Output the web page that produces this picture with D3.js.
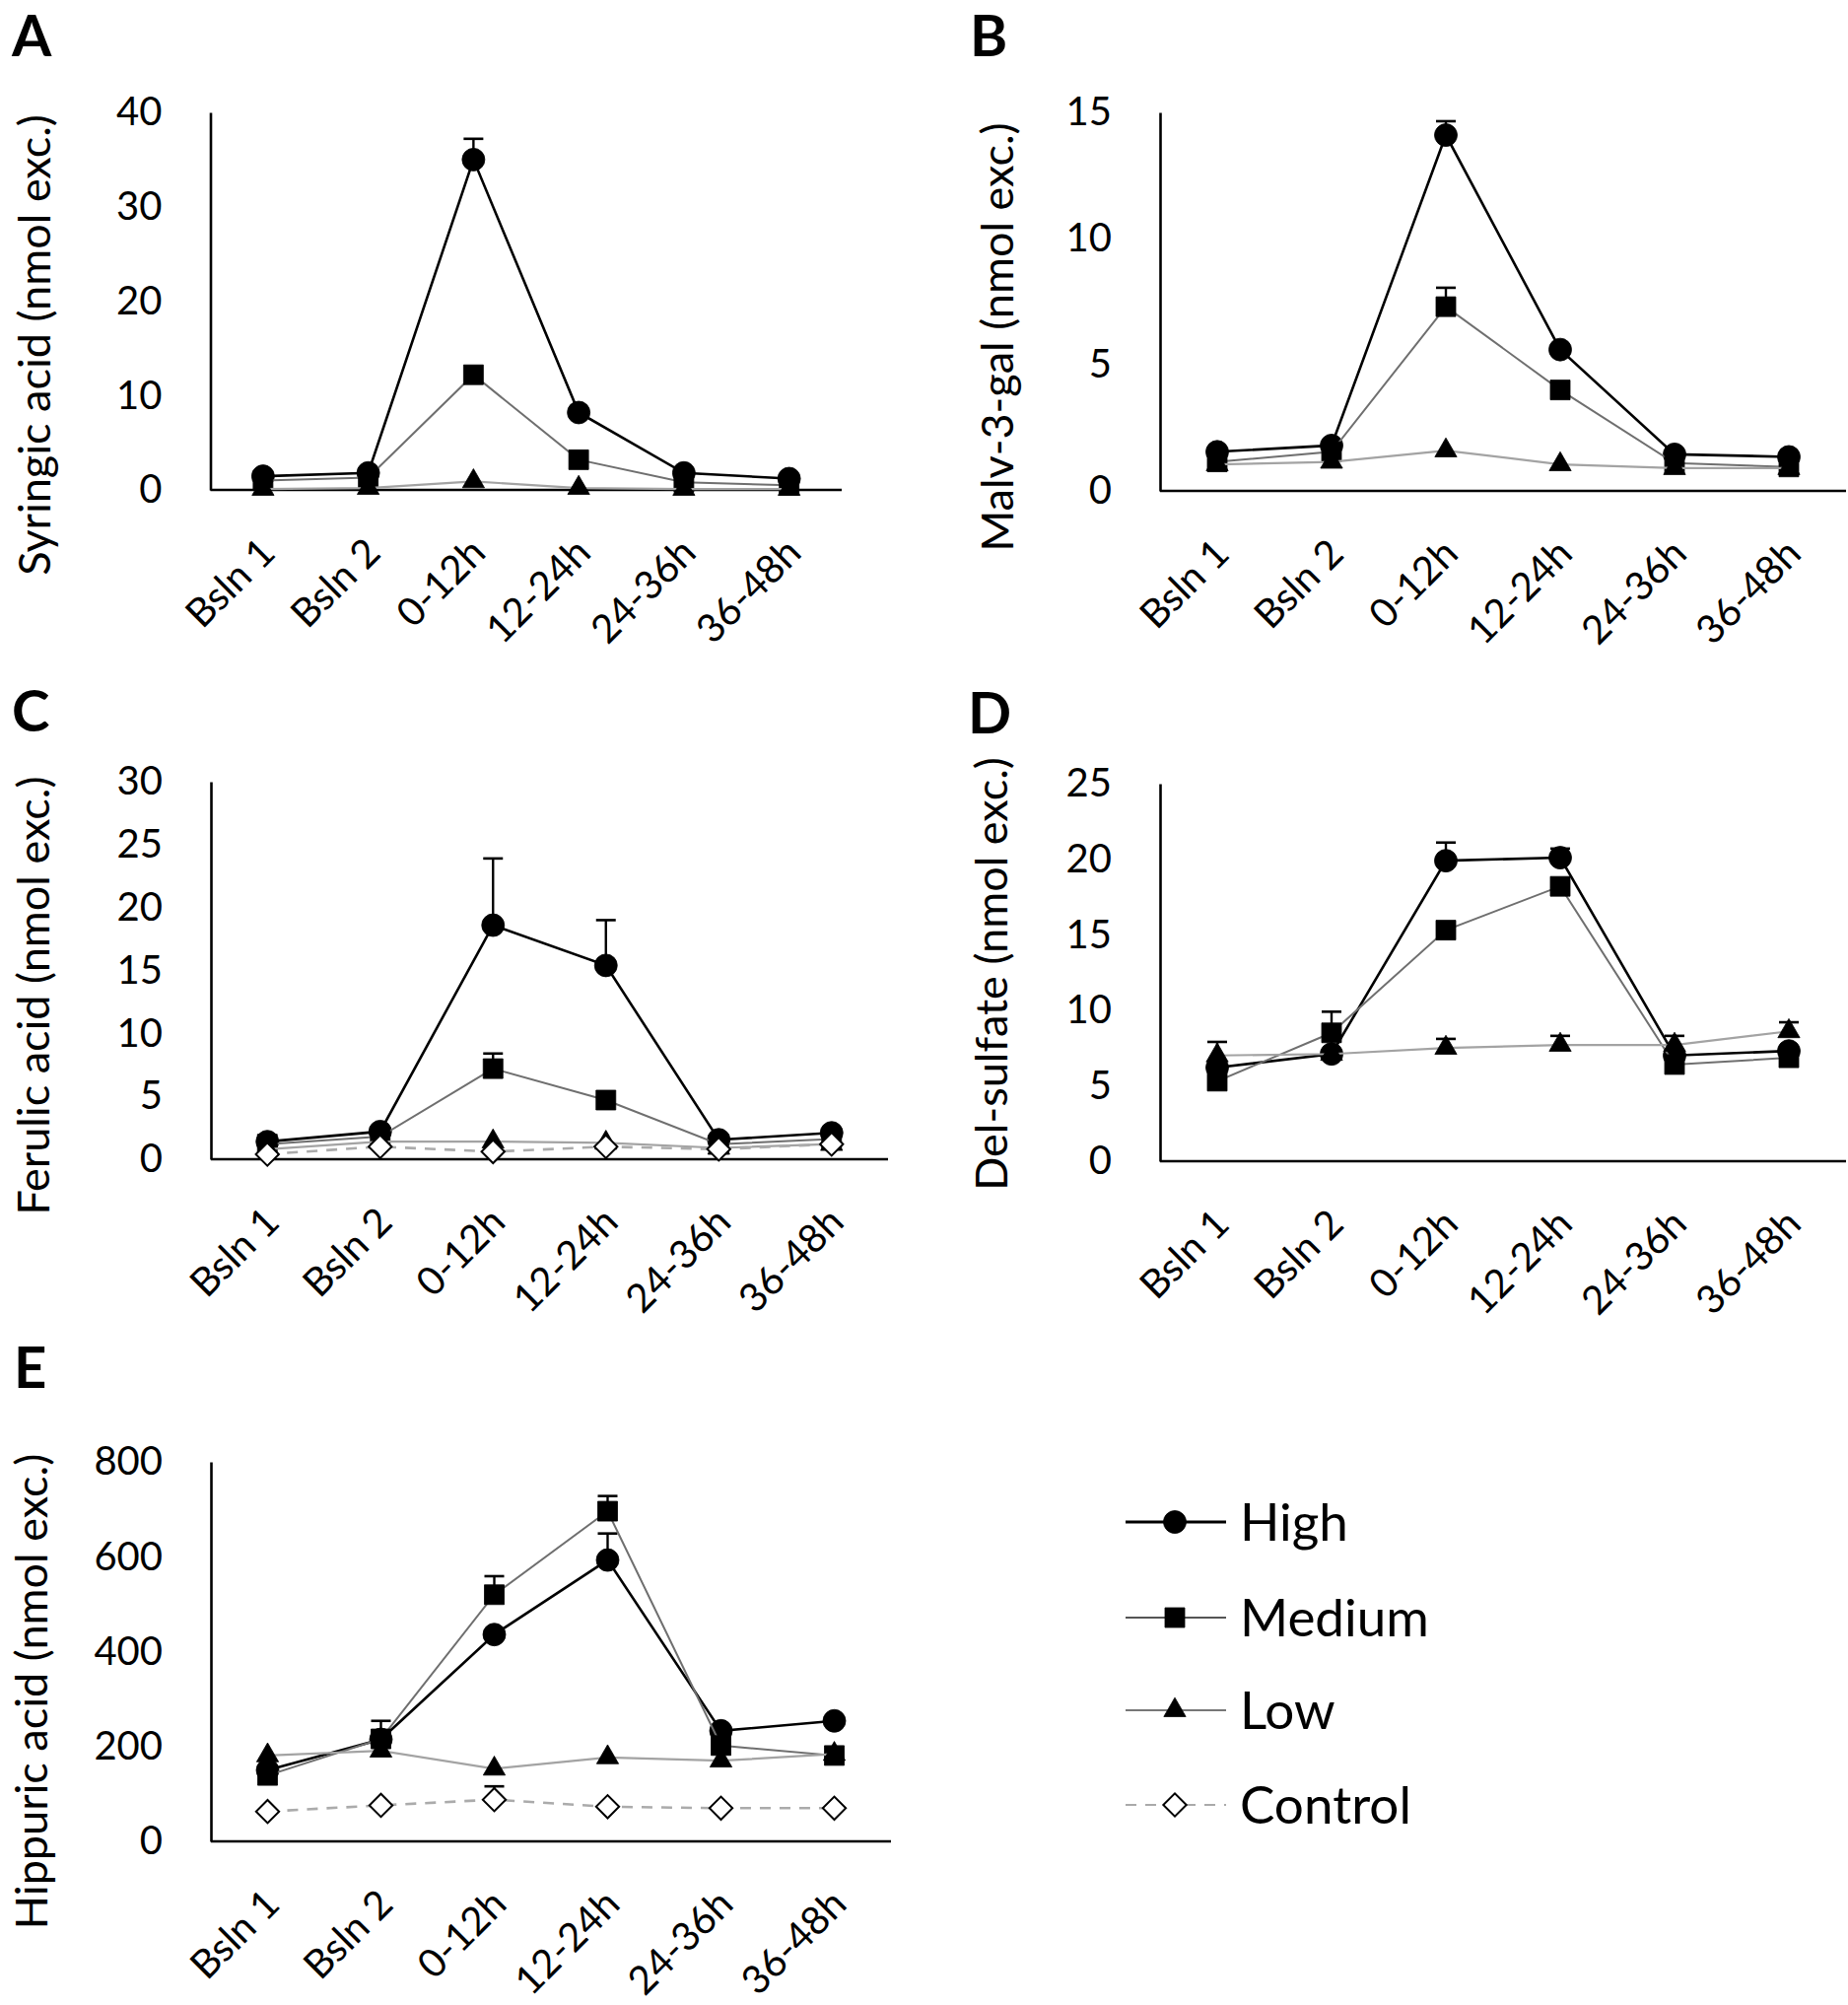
<!DOCTYPE html>
<html><head><meta charset="utf-8">
<script src="https://cdn.jsdelivr.net/npm/d3@7"></script>
<style>
body{margin:0;background:#fff}
svg{display:block}
text{font-family:Lato,'Open Sans',sans-serif;fill:#000}
</style>
</head><body>
<svg id="chart" width="1875" height="2034"></svg>
<script>
// ---------- DATA ----------
const categories = ["Bsln 1", "Bsln 2", "0-12h", "12-24h", "24-36h", "36-48h"];
const seriesNames = ["High", "Medium", "Low", "Control"];

// A: Syringic acid
const syringicHigh      = [1.45, 1.8, 35.0, 8.2, 1.8, 1.2];
const syringicHighErr   = [0, 0, 2.2, 0, 0, 0];
const syringicMedium    = [1.0, 1.3, 12.2, 3.2, 0.8, 0.5];
const syringicMediumErr = [0, 0, 0, 0, 0, 0];
const syringicLow       = [0.1, 0.2, 0.9, 0.2, 0.1, 0.1];
const syringicTicks     = [0, 10, 20, 30, 40];

// B: Malv-3-gal
const malvHigh      = [1.55, 1.8, 14.1, 5.6, 1.45, 1.35];
const malvHighErr   = [0, 0, 0.55, 0, 0, 0];
const malvMedium    = [1.15, 1.55, 7.3, 4.0, 1.1, 0.95];
const malvMediumErr = [0, 0, 0.75, 0, 0, 0];
const malvLow       = [1.05, 1.15, 1.6, 1.05, 0.9, 0.9];
const malvTicks     = [0, 5, 10, 15];

// C: Ferulic acid
const ferulicHigh      = [1.4, 2.2, 18.6, 15.4, 1.55, 2.1];
const ferulicHighErr   = [0, 0, 5.3, 3.6, 0, 0];
const ferulicMedium    = [1.2, 1.8, 7.2, 4.7, 1.2, 1.6];
const ferulicMediumErr = [0, 0, 1.2, 0, 0, 0];
const ferulicLow       = [0.8, 1.4, 1.4, 1.3, 0.9, 1.2];
const ferulicControl   = [0.4, 1.0, 0.6, 1.0, 0.8, 1.2];
const ferulicTicks     = [0, 5, 10, 15, 20, 25, 30];

// D: Del-sulfate
const delHigh      = [6.2, 7.1, 19.9, 20.1, 7.0, 7.3];
const delHighErr   = [0, 0, 1.2, 0.6, 0, 0];
const delMedium    = [5.3, 8.5, 15.3, 18.2, 6.4, 6.85];
const delMediumErr = [0, 1.4, 0, 0, 0, 0];
const delLow       = [7.0, 7.1, 7.5, 7.7, 7.7, 8.6];
const delLowErr    = [0.9, 0, 0.6, 0.6, 0.6, 0.6];
const delTicks     = [0, 5, 10, 15, 20, 25];

// E: Hippuric acid
const hippHigh       = [150, 215, 436, 593, 233, 254];
const hippHighErr    = [0, 0, 0, 56, 0, 0];
const hippMedium     = [139, 216, 520, 696, 202, 181];
const hippMediumErr  = [0, 38, 39, 32, 0, 0];
const hippLow        = [181, 191, 153, 177, 170, 184];
const hippControl    = [63, 76, 88, 73, 70, 70];
const hippControlErr = [0, 0, 28, 0, 0, 0];
const hippTicks      = [0, 200, 400, 600, 800];

const panelLetters = ["A", "B", "C", "D", "E"];
const panelTitles = ["Syringic acid (nmol exc.)", "Malv-3-gal (nmol exc.)", "Ferulic acid (nmol exc.)",
                     "Del-sulfate (nmol exc.)", "Hippuric acid (nmol exc.)"];

// ---------- BUILD ----------
const zeros = categories.map(() => 0);
const panels = [
  {letter: panelLetters[0], title: panelTitles[0], ticks: syringicTicks,
   series: {High: [syringicHigh, syringicHighErr], Medium: [syringicMedium, syringicMediumErr], Low: [syringicLow, zeros]}},
  {letter: panelLetters[1], title: panelTitles[1], ticks: malvTicks,
   series: {High: [malvHigh, malvHighErr], Medium: [malvMedium, malvMediumErr], Low: [malvLow, zeros]}},
  {letter: panelLetters[2], title: panelTitles[2], ticks: ferulicTicks,
   series: {High: [ferulicHigh, ferulicHighErr], Medium: [ferulicMedium, ferulicMediumErr], Low: [ferulicLow, zeros], Control: [ferulicControl, zeros]}},
  {letter: panelLetters[3], title: panelTitles[3], ticks: delTicks,
   series: {High: [delHigh, delHighErr], Medium: [delMedium, delMediumErr], Low: [delLow, delLowErr]}},
  {letter: panelLetters[4], title: panelTitles[4], ticks: hippTicks,
   series: {High: [hippHigh, hippHighErr], Medium: [hippMedium, hippMediumErr], Low: [hippLow, zeros], Control: [hippControl, hippControlErr]}}
];

// layout (pixels)
const layout = [
  {x0: 213.5, x1: 854, yTop: 114, yBot: 497, lx: 12, ly: 57, tx: 35, ty: 350},
  {x0: 1177, x1: 1873, yTop: 114, yBot: 498, lx: 984, ly: 57, tx: 1012, ty: 342},
  {x0: 214, x1: 901, yTop: 793, yBot: 1176, lx: 12, ly: 742, tx: 34, ty: 1010},
  {x0: 1177, x1: 1873, yTop: 795, yBot: 1178, lx: 982, ly: 744, tx: 1006, ty: 988},
  {x0: 214, x1: 904, yTop: 1483, yBot: 1868, lx: 14, ly: 1408, tx: 32, ty: 1716}
];

const style = {
  High:    {stroke: "#000", width: 2.6, dash: null, fill: "#000", sym: "circle"},
  Medium:  {stroke: "#6f6f6f", width: 2, dash: null, fill: "#000", sym: "square"},
  Low:     {stroke: "#a3a3a3", width: 2.2, dash: null, fill: "#000", sym: "triangle"},
  Control: {stroke: "#ababab", width: 2.6, dash: "11,9", fill: "#fff", sym: "diamond"}
};

function markerPath(sym) {
  if (sym === "circle") return d3.symbol(d3.symbolCircle, Math.PI * 11.5 * 11.5)();
  if (sym === "square") return d3.symbol(d3.symbolSquare, 20 * 20)();
  if (sym === "triangle") return d3.symbol(d3.symbolTriangle, 215)();
  return d3.symbol(d3.symbolSquare, 16.5 * 16.5)();
}

const svg = d3.select("#chart");

panels.forEach((p, i) => {
  const L = layout[i];
  const g = svg.append("g");
  const x = d3.scalePoint().domain(categories).range([L.x0, L.x1]).padding(0.5);
  const yMax = p.ticks[p.ticks.length - 1];
  const y = d3.scaleLinear().domain([0, yMax]).range([L.yBot, L.yTop]);

  // y axis
  const ya = g.append("g").attr("transform", `translate(${L.x0},0)`)
    .call(d3.axisLeft(y).tickValues(p.ticks).tickSize(0).tickSizeOuter(0).tickPadding(49));
  ya.select(".domain").attr("stroke", "#000").attr("stroke-width", 2.6);
  ya.selectAll("text").style("font-size", "40px").style("font-family", "Lato,'Open Sans',sans-serif");

  // x axis
  const xa = g.append("g").attr("transform", `translate(0,${L.yBot})`)
    .call(d3.axisBottom(x).tickSize(0).tickSizeOuter(0));
  xa.select(".domain").attr("stroke", "#000").attr("stroke-width", 2.6)
    .attr("d", `M${L.x0},0H${L.x1}`);
  xa.selectAll("text")
    .attr("x", 0).attr("y", 0).attr("dy", 0)
    .attr("transform", "translate(14,66) rotate(-45)")
    .style("text-anchor", "end")
    .style("font-size", "40px").style("font-family", "Lato,'Open Sans',sans-serif");

  // panel letter
  g.append("text").attr("x", L.lx).attr("y", L.ly).text(p.letter)
    .style("font-size", "58px").style("font-weight", "bold");
  // y title
  g.append("text").attr("transform", `translate(${L.tx},${L.ty}) rotate(-90)`)
    .attr("text-anchor", "middle").attr("dy", "0.35em")
    .style("font-size", "45px").text(p.title);

  // series
  seriesNames.forEach(name => {
    if (!p.series[name]) return;
    const [vals, errs] = p.series[name];
    const st = style[name];
    const pts = categories.map((c, k) => ({c, v: vals[k], e: errs[k]}));
    const line = d3.line().x(d => x(d.c)).y(d => y(d.v));
    g.append("path").datum(pts).attr("d", line).attr("fill", "none")
      .attr("stroke", st.stroke).attr("stroke-width", st.width)
      .attr("stroke-dasharray", st.dash);
    // error bars
    pts.filter(d => d.e > 0).forEach(d => {
      const cx = x(d.c), y1 = y(d.v), y2 = y(d.v + d.e);
      g.append("line").attr("x1", cx).attr("x2", cx).attr("y1", y1).attr("y2", y2)
        .attr("stroke", "#000").attr("stroke-width", 2.4);
      g.append("line").attr("x1", cx - 10).attr("x2", cx + 10).attr("y1", y2).attr("y2", y2)
        .attr("stroke", "#000").attr("stroke-width", 2.6);
    });
    g.selectAll(null).data(pts).enter().append("path")
      .attr("d", markerPath(st.sym))
      .attr("transform", d => `translate(${x(d.c)},${y(d.v)})` + (st.sym === "diamond" ? " rotate(45)" : ""))
      .attr("fill", st.fill).attr("stroke", "#000")
      .attr("stroke-width", st.sym === "diamond" ? 2 : 0.8);
  });
});

// ---------- LEGEND ----------
const legY = [1544, 1641, 1735, 1831];
const leg = svg.append("g");
seriesNames.forEach((name, k) => {
  const st = style[name];
  const yy = legY[k];
  leg.append("line").attr("x1", 1142).attr("x2", 1244).attr("y1", yy).attr("y2", yy)
    .attr("stroke", name === "High" ? "#000" : (name === "Medium" ? "#555" : (name === "Low" ? "#777" : "#aaa")))
    .attr("stroke-width", name === "High" ? 3 : 2.2)
    .attr("stroke-dasharray", st.dash);
  leg.append("path").attr("d", markerPath(st.sym))
    .attr("transform", `translate(1192,${yy})` + (st.sym === "diamond" ? " rotate(45)" : ""))
    .attr("fill", st.fill).attr("stroke", "#000").attr("stroke-width", st.sym === "diamond" ? 2 : 0.8);
  leg.append("text").attr("x", 1258).attr("y", yy).attr("dy", "0.36em")
    .style("font-size", "53px").text(name);
});
</script>
</body></html>
